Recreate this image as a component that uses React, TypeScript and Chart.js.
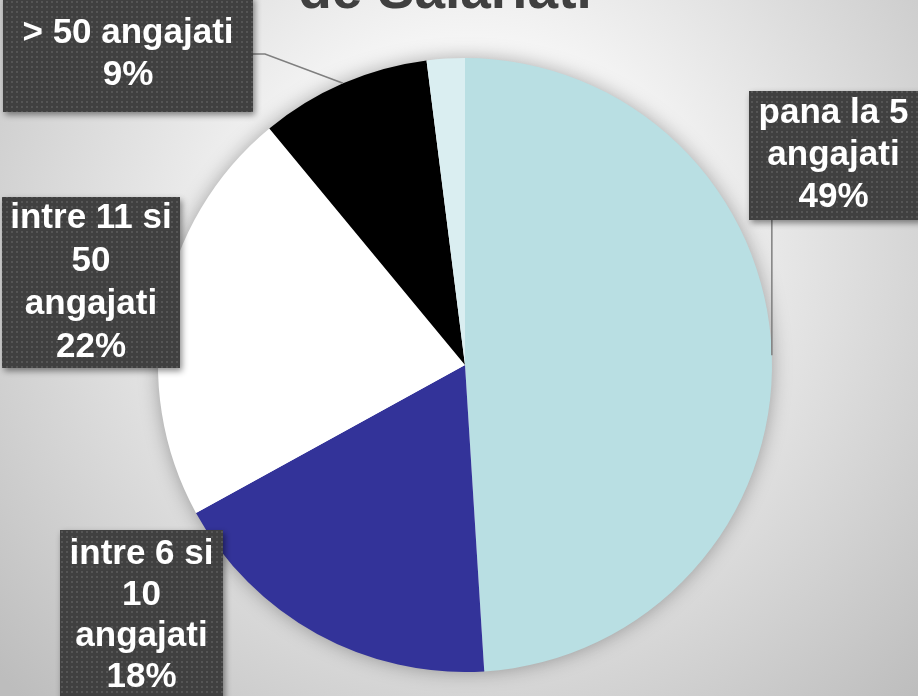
import React, { useEffect, useRef } from 'react';
import { Chart, registerables } from 'chart.js';

Chart.register(...registerables);

// ---- data ----
const categories = [
  'pana la 5 angajati',
  'intre 6 si 10 angajati',
  'intre 11 si 50 angajati',
  '> 50 angajati',
  'nespecificat',
];
const shares = [49, 18, 22, 9, 2];
const sliceColors = ['#B9DFE3', '#333399', '#FFFFFF', '#000000', '#DAEEF1'];
const labelWrap: (string[] | null)[] = [
  ['pana la 5', 'angajati'],
  ['intre 6 si', '10', 'angajati'],
  ['intre 11 si', '50', 'angajati'],
  ['> 50 angajati'],
  null,
];
const titleLine = 'de Salariati';

// ---- label box layout ----
type Box = { x: number; y: number; w: number; h: number; lh: number; leader: 'down' | 'side' | null };
const boxes: (Box | null)[] = [
  { x: 749, y: 91, w: 172, h: 129, lh: 42, leader: 'down' },
  { x: 60, y: 530, w: 163, h: 172, lh: 41, leader: null },
  { x: 2, y: 197, w: 178, h: 171, lh: 43, leader: null },
  { x: 3, y: -4, w: 250, h: 116, lh: 42, leader: 'side' },
  null,
];

const FONT = '"Liberation Sans", Arial, Helvetica, sans-serif';

function makePattern(ctx: CanvasRenderingContext2D) {
  const c = document.createElement('canvas');
  c.width = 5;
  c.height = 5;
  const p = c.getContext('2d')!;
  p.fillStyle = '#404040';
  p.fillRect(0, 0, 5, 5);
  p.fillStyle = '#555555';
  p.fillRect(1, 1, 2, 2);
  return ctx.createPattern(c, 'repeat');
}

const backgroundPlugin = {
  id: 'bgTitle',
  beforeDraw(chart: any) {
    const { ctx, width, height } = chart;
    ctx.save();
    const g = ctx.createRadialGradient(470, 240, 0, 470, 240, 640);
    g.addColorStop(0, '#ffffff');
    g.addColorStop(0.3, '#f6f6f6');
    g.addColorStop(1, '#bdbdbd');
    ctx.fillStyle = g;
    ctx.fillRect(0, 0, width, height);
    ctx.fillStyle = '#404040';
    ctx.font = `bold 55px ${FONT}`;
    ctx.textAlign = 'center';
    ctx.textBaseline = 'alphabetic';
    ctx.fillText(titleLine, 445, 8);
    ctx.restore();
  },
};

const pieShadowPlugin = {
  id: 'pieShadow',
  beforeDatasetsDraw(chart: any) {
    const arc = chart.getDatasetMeta(0).data[0];
    if (!arc) return;
    const { ctx } = chart;
    ctx.save();
    ctx.shadowColor = 'rgba(0,0,0,0.35)';
    ctx.shadowBlur = 20;
    ctx.fillStyle = '#ffffff';
    ctx.beginPath();
    ctx.arc(arc.x, arc.y, arc.outerRadius - 1, 0, Math.PI * 2);
    ctx.fill();
    ctx.restore();
  },
};

const labelPlugin = {
  id: 'boxLabels',
  afterDatasetsDraw(chart: any) {
    const { ctx } = chart;
    const meta = chart.getDatasetMeta(0);
    const pattern = makePattern(ctx);
    const total = shares.reduce((a, b) => a + b, 0);
    meta.data.forEach((arc: any, i: number) => {
      const box = boxes[i];
      const wrap = labelWrap[i];
      if (!box || !wrap) return;
      const mid = (arc.startAngle + arc.endAngle) / 2;
      const ax = arc.x + Math.cos(mid) * arc.outerRadius;
      const ay = arc.y + Math.sin(mid) * arc.outerRadius;
      ctx.save();
      ctx.strokeStyle = '#7f7f7f';
      ctx.lineWidth = 1.5;
      if (box.leader === 'down') {
        ctx.beginPath();
        ctx.moveTo(ax, box.y + box.h);
        ctx.lineTo(ax, ay);
        ctx.stroke();
      } else if (box.leader === 'side') {
        const ly = box.y + box.h / 2;
        ctx.beginPath();
        ctx.moveTo(box.x + box.w, ly);
        ctx.lineTo(box.x + box.w + 12, ly);
        ctx.lineTo(ax, ay);
        ctx.stroke();
      }
      // box
      ctx.shadowColor = 'rgba(0,0,0,0.45)';
      ctx.shadowBlur = 6;
      ctx.shadowOffsetX = 2;
      ctx.shadowOffsetY = 3;
      ctx.fillStyle = pattern || '#404040';
      ctx.fillRect(box.x, box.y, box.w, box.h);
      ctx.shadowColor = 'transparent';
      // text
      const pct = Math.round((shares[i] / total) * 100) + '%';
      const lines = [...wrap, pct];
      ctx.fillStyle = '#ffffff';
      ctx.font = `bold 35px ${FONT}`;
      ctx.textAlign = 'center';
      ctx.textBaseline = 'middle';
      const cx = box.x + Math.min(box.w, 918 - box.x) / 2;
      const cy = box.y + box.h / 2;
      lines.forEach((t, k) => {
        ctx.fillText(t, cx, cy + (k - (lines.length - 1) / 2) * box.lh);
      });
      ctx.restore();
    });
  },
};

export default function App() {
  const ref = useRef<HTMLCanvasElement>(null);
  useEffect(() => {
    if (!ref.current) return;
    const chart = new Chart(ref.current, {
      type: 'pie',
      data: {
        labels: categories,
        datasets: [
          {
            data: shares,
            backgroundColor: sliceColors,
            borderWidth: 0,
          },
        ],
      },
      options: {
        animation: false,
        responsive: false,
        devicePixelRatio: 1,
        layout: { padding: { top: 58, bottom: 24, left: 158, right: 146 } },
        plugins: {
          legend: { display: false },
          tooltip: { enabled: false },
          title: { display: false },
        },
      },
      plugins: [backgroundPlugin, pieShadowPlugin, labelPlugin],
    });
    return () => chart.destroy();
  }, []);
  return (
    <div style={{ position: 'fixed', left: 0, top: 0, width: 918, height: 696 }}>
      <canvas ref={ref} width={918} height={696} style={{ width: 918, height: 696, display: 'block' }} />
    </div>
  );
}
